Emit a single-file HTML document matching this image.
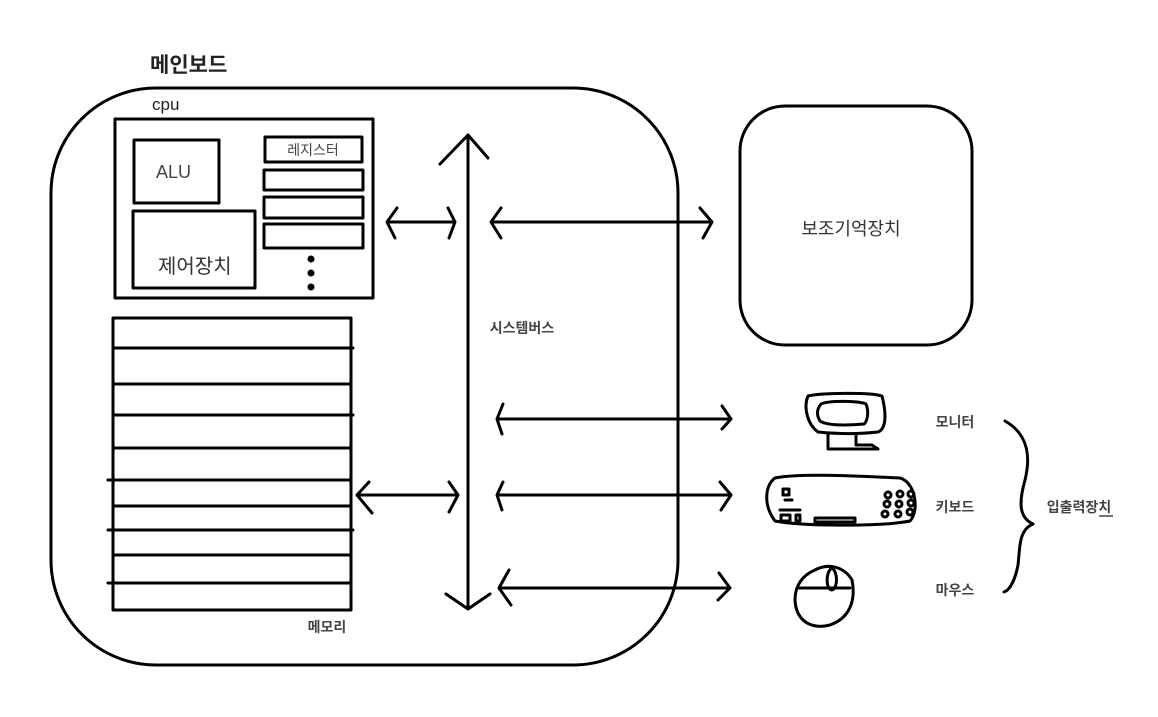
<!DOCTYPE html>
<html><head><meta charset="utf-8"><style>
body{margin:0;background:#fff}
svg{display:block}
text{font-family:"Liberation Sans","Noto Sans CJK KR",sans-serif}
</style></head><body>
<svg width="1158" height="717" viewBox="0 0 1158 717">
<g fill="none" stroke="#000" stroke-width="3" stroke-linecap="round" stroke-linejoin="round">
<rect x="51" y="88" width="627" height="577" rx="105"/>
<rect x="115" y="119" width="258" height="179"/>
<rect x="134" y="140" width="85" height="63"/>
<rect x="133" y="211" width="122" height="77"/>
<rect x="265" y="137" width="97" height="25"/>
<rect x="264" y="170" width="99" height="20"/>
<rect x="264" y="197" width="99" height="21"/>
<rect x="264" y="224" width="99" height="24"/>
<rect x="113" y="318" width="238" height="292"/>
<path d="M113 348H353M113 384H351M113 415H353M113 448H351M108 480H351M113 506H351M108 530H353M113 555H351M108 583H351"/>
<rect x="740" y="106" width="232" height="239" rx="45"/>
<path d="M468 135V609M440 164L468 135L488 158M446 594L468 609L490 594"/>
<path d="M387 222H455M397 208L387 222L395 238M448 208L455 222L449 238"/>
<path d="M491 222H712M501 208L491 222L501 238M700 208L712 222L703 238"/>
<path d="M497 419H731M503 404L497 419L502 434M722 406L731 419L722 429"/>
<path d="M357 495H458M369 482L357 495L372 513M449 482L458 495L449 512"/>
<path d="M497 495H731M503 482L497 495L502 510M720 482L731 495L721 510"/>
<path d="M499 588H730M509 570L499 588L511 605M719 573L730 588L718 600"/>
<path d="M1005 421C1030 435 1030 460 1025 480C1018 505 1020 518 1033 524C1018 530 1020 550 1018 565C1015 580 1010 590 1004 592"/>
<path d="M808 396C820 393 870 392 882 396C888 420 884 430 878 432C860 434 838 434 818 432C808 425 803 408 808 396Z"/>
<path d="M821 404C830 400 860 401 866 404C870 414 866 423 864 424C840 426 826 425 820 421C816 414 817 409 821 404Z"/>
<path d="M828 434V449H878L872 445H856V434"/>
<path d="M775 478C800 473 860 476 900 478C915 482 920 510 910 521C880 527 800 526 775 521C763 505 765 485 775 478Z"/>
<path d="M783 489H789V495H783ZM785 500H792M780 510H800ZM781 515H790V521H781ZM796 515H800V521H796ZM815 518H855V522H815Z"/>
<circle cx="888" cy="495" r="3"/><circle cx="900" cy="494" r="3"/><circle cx="911" cy="494" r="3"/>
<circle cx="887" cy="504" r="3"/><circle cx="899" cy="504" r="3"/><circle cx="911" cy="503" r="3"/>
<circle cx="885" cy="514" r="3"/><circle cx="898" cy="514" r="3"/><circle cx="910" cy="512" r="3"/>
<path d="M815 570C830 562 845 568 852 580C856 600 850 618 830 625C810 630 796 620 795 600C795 585 803 575 815 570Z"/>
<path d="M797 588H850M832 568C825 572 826 590 832 590C838 588 838 572 832 568Z"/>
</g>
<g fill="#000"><circle cx="311" cy="259" r="3.5"/><circle cx="311" cy="273" r="3.5"/><circle cx="311" cy="287" r="3.5"/></g>
<text x="150" y="72" font-size="21" font-weight="bold" fill="#222">메인보드</text>
<text x="152" y="110" font-size="17" fill="#222">cpu</text>
<text x="156" y="178" font-size="18" fill="#444">ALU</text>
<text x="158" y="273" font-size="20" fill="#333">제어장치</text>
<text x="313" y="155" font-size="14" fill="#444" text-anchor="middle">레지스터</text>
<text x="522" y="333" font-size="14" font-weight="bold" fill="#444" text-anchor="middle">시스템버스</text>
<text x="327" y="632" font-size="14" font-weight="bold" fill="#444" text-anchor="middle">메모리</text>
<text x="851" y="235" font-size="18" fill="#333" text-anchor="middle">보조기억장치</text>
<text x="955" y="427" font-size="14" font-weight="bold" fill="#444" text-anchor="middle">모니터</text>
<text x="955" y="512" font-size="14" font-weight="bold" fill="#444" text-anchor="middle">키보드</text>
<text x="955" y="595" font-size="14" font-weight="bold" fill="#444" text-anchor="middle">마우스</text>
<text x="1079" y="512" font-size="14" font-weight="bold" fill="#444" text-anchor="middle">입출력장치</text>
<line x1="1099" y1="516" x2="1113" y2="516" stroke="#444" stroke-width="1.5"/>
</svg>
</body></html>
